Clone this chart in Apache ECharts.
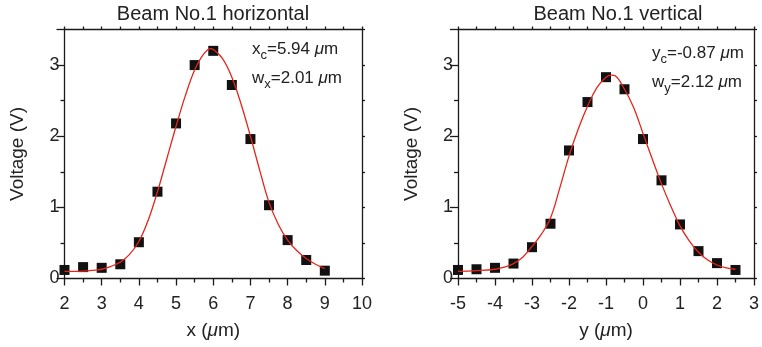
<!DOCTYPE html>
<html>
<head>
<meta charset="utf-8">
<script src="https://cdn.jsdelivr.net/npm/echarts@6/dist/echarts.min.js"></script>
<style>html,body{margin:0;padding:0;background:#fff}#c{width:762px;height:347px}</style>
</head>
<body>
<div id="c"></div>
<script>
// ---- Data: horizontal scan ----
const hX = [2, 2.5, 3, 3.5, 4, 4.5, 5, 5.5, 6, 6.5, 7, 7.5, 8, 8.5, 9];
const hV = [0.12, 0.16, 0.15, 0.20, 0.51, 1.22, 2.18, 3.00, 3.20, 2.72, 1.96, 1.03, 0.54, 0.26, 0.11];
const hFitX = [2, 2.25, 2.5, 2.75, 3, 3.25, 3.5, 3.75, 4, 4.25, 4.5, 4.75, 5, 5.25, 5.5, 5.75, 5.94, 6, 6.25, 6.5, 6.75, 7, 7.25, 7.5, 7.75, 8, 8.25, 8.5, 8.75, 9];
const hFitV = [0.10, 0.10, 0.105, 0.115, 0.13, 0.17, 0.23, 0.34, 0.52, 0.82, 1.22, 1.68, 2.14, 2.57, 2.93, 3.16, 3.23, 3.22, 3.09, 2.83, 2.45, 2.00, 1.52, 1.07, 0.76, 0.54, 0.39, 0.28, 0.20, 0.14];
// ---- Data: vertical scan ----
const vX = [-5, -4.5, -4, -3.5, -3, -2.5, -2, -1.5, -1, -0.5, 0, 0.5, 1, 1.5, 2, 2.5];
const vV = [0.12, 0.13, 0.15, 0.21, 0.44, 0.77, 1.80, 2.48, 2.83, 2.66, 1.96, 1.38, 0.76, 0.385, 0.216, 0.12];
const vFitX = [-5, -4.5, -4, -3.75, -3.5, -3.25, -3, -2.75, -2.5, -2.25, -2, -1.75, -1.5, -1.25, -1, -0.85, -0.75, -0.5, -0.25, 0, 0.25, 0.5, 0.75, 1, 1.25, 1.5, 1.75, 2, 2.25, 2.5];
const vFitV = [0.10, 0.11, 0.13, 0.16, 0.21, 0.30, 0.45, 0.62, 0.85, 1.27, 1.72, 2.10, 2.42, 2.68, 2.83, 2.86, 2.85, 2.66, 2.40, 2.04, 1.68, 1.33, 1.02, 0.74, 0.53, 0.37, 0.26, 0.19, 0.15, 0.13];
// ---- Text ----
const titles = ['Beam No.1 horizontal', 'Beam No.1 vertical'];
const xNames = ['x', 'y'];
const yName = 'Voltage (V)';
const ann = [['x', 'c', '=5.94 '], ['w', 'x', '=2.01 '], ['y', 'c', '=-0.87 '], ['w', 'y', '=2.12 ']];

const FONT = '"Liberation Sans", Arial, Helvetica, sans-serif';
const INK = '#1a1a1a';
const TXT = '#222';
const RED = '#e3261c';

function pairs(xs, ys) { return xs.map((x, i) => [x, ys[i]]); }

const lineStyle = { color: INK, width: 1.3 };
function mainX(grid, min, max, name) {
  return {
    gridIndex: grid, type: 'value', min: min, max: max, interval: 1, position: 'bottom',
    axisLine: { show: true, onZero: false, lineStyle: lineStyle },
    axisTick: { show: true, length: 7, lineStyle: lineStyle },
    minorTick: { show: true, splitNumber: 2, length: 4, lineStyle: lineStyle },
    splitLine: { show: false },
    axisLabel: { fontSize: 18, color: TXT, fontFamily: FONT, margin: 17 },
    name: '{n|' + name + ' (}{mu|\u03bc}{n|m)}', nameLocation: 'middle', nameGap: 43,
    nameTextStyle: { color: TXT, fontFamily: FONT, fontSize: 19,
      rich: { n: { fontSize: 19, fontFamily: FONT, color: TXT }, mu: { fontSize: 19, fontFamily: FONT, fontStyle: 'italic', color: TXT } } }
  };
}
function topX(grid, min, max) {
  return {
    gridIndex: grid, type: 'value', min: min, max: max, interval: 0.5, position: 'top',
    axisLine: { show: true, onZero: false, lineStyle: lineStyle },
    axisTick: { show: true, length: 3, lineStyle: lineStyle },
    axisLabel: { show: false }, splitLine: { show: false }
  };
}
function mainY(grid) {
  return {
    gridIndex: grid, type: 'value', min: 0, max: 3.5, interval: 1, position: 'left',
    axisLine: { show: true, onZero: false, lineStyle: lineStyle },
    axisTick: { show: true, length: 8, lineStyle: lineStyle },
    minorTick: { show: true, splitNumber: 2, length: 4, lineStyle: lineStyle },
    splitLine: { show: false },
    axisLabel: { fontSize: 18, color: TXT, fontFamily: FONT, margin: 5, showMaxLabel: false },
    name: yName, nameLocation: 'middle', nameGap: 37,
    nameTextStyle: { color: TXT, fontFamily: FONT, fontSize: 19 }
  };
}
function rightY(grid) {
  return {
    gridIndex: grid, type: 'value', min: 0, max: 3.5, interval: 0.5, position: 'right',
    axisLine: { show: true, onZero: false, lineStyle: lineStyle },
    axisTick: { show: true, length: 3, lineStyle: lineStyle },
    axisLabel: { show: false }, splitLine: { show: false }
  };
}

function annText(a) {
  return '{t|' + a[0] + '}{s|' + a[1] + '}{t|' + a[2] + '}{mu|\u03bc}{t|m}';
}
const annRich = {
  t: { fontSize: 17, fontFamily: FONT, fill: TXT, color: TXT },
  s: { fontSize: 13, fontFamily: FONT, fill: TXT, color: TXT, padding: [12, 0, 0, 0] },
  mu: { fontSize: 17, fontFamily: FONT, fontStyle: 'italic', fill: TXT, color: TXT }
};

const chart = echarts.init(document.getElementById('c'), null, { renderer: 'canvas' });
chart.setOption({
  animation: false,
  backgroundColor: '#fff',
  grid: [
    { left: 64.5, top: 29.5, width: 297.5, height: 249 },
    { left: 458, top: 29.5, width: 296.5, height: 249 }
  ],
  xAxis: [mainX(0, 2, 10, xNames[0]), topX(0, 2, 10), mainX(1, -5, 3, xNames[1]), topX(1, -5, 3)],
  yAxis: [mainY(0), rightY(0), mainY(1), rightY(1)],
  graphic: [
    { type: 'text', x: 213, y: 14, style: { text: titles[0], font: '20px ' + FONT, fill: TXT, align: 'center', verticalAlign: 'middle' } },
    { type: 'text', x: 618, y: 14, style: { text: titles[1], font: '20px ' + FONT, fill: TXT, align: 'center', verticalAlign: 'middle' } },
    { type: 'text', x: 252, y: 49, style: { text: annText(ann[0]), rich: annRich, font: '17px ' + FONT, fill: TXT, align: 'left', verticalAlign: 'middle' } },
    { type: 'text', x: 252, y: 78, style: { text: annText(ann[1]), rich: annRich, font: '17px ' + FONT, fill: TXT, align: 'left', verticalAlign: 'middle' } },
    { type: 'text', x: 652, y: 53, style: { text: annText(ann[2]), rich: annRich, font: '17px ' + FONT, fill: TXT, align: 'left', verticalAlign: 'middle' } },
    { type: 'text', x: 652, y: 82, style: { text: annText(ann[3]), rich: annRich, font: '17px ' + FONT, fill: TXT, align: 'left', verticalAlign: 'middle' } }
  ],
  series: [
    { type: 'scatter', xAxisIndex: 0, yAxisIndex: 0, data: pairs(hX, hV), symbol: 'rect', symbolSize: 10, itemStyle: { color: '#111', opacity: 1 }, z: 2 },
    { type: 'line', xAxisIndex: 0, yAxisIndex: 0, data: pairs(hFitX, hFitV), smooth: 0.4, showSymbol: false, lineStyle: { color: RED, width: 1.3 }, z: 3 },
    { type: 'scatter', xAxisIndex: 2, yAxisIndex: 2, data: pairs(vX, vV), symbol: 'rect', symbolSize: 10, itemStyle: { color: '#111', opacity: 1 }, z: 2 },
    { type: 'line', xAxisIndex: 2, yAxisIndex: 2, data: pairs(vFitX, vFitV), smooth: 0.4, showSymbol: false, lineStyle: { color: RED, width: 1.3 }, z: 3 }
  ]
});
</script>
</body>
</html>
